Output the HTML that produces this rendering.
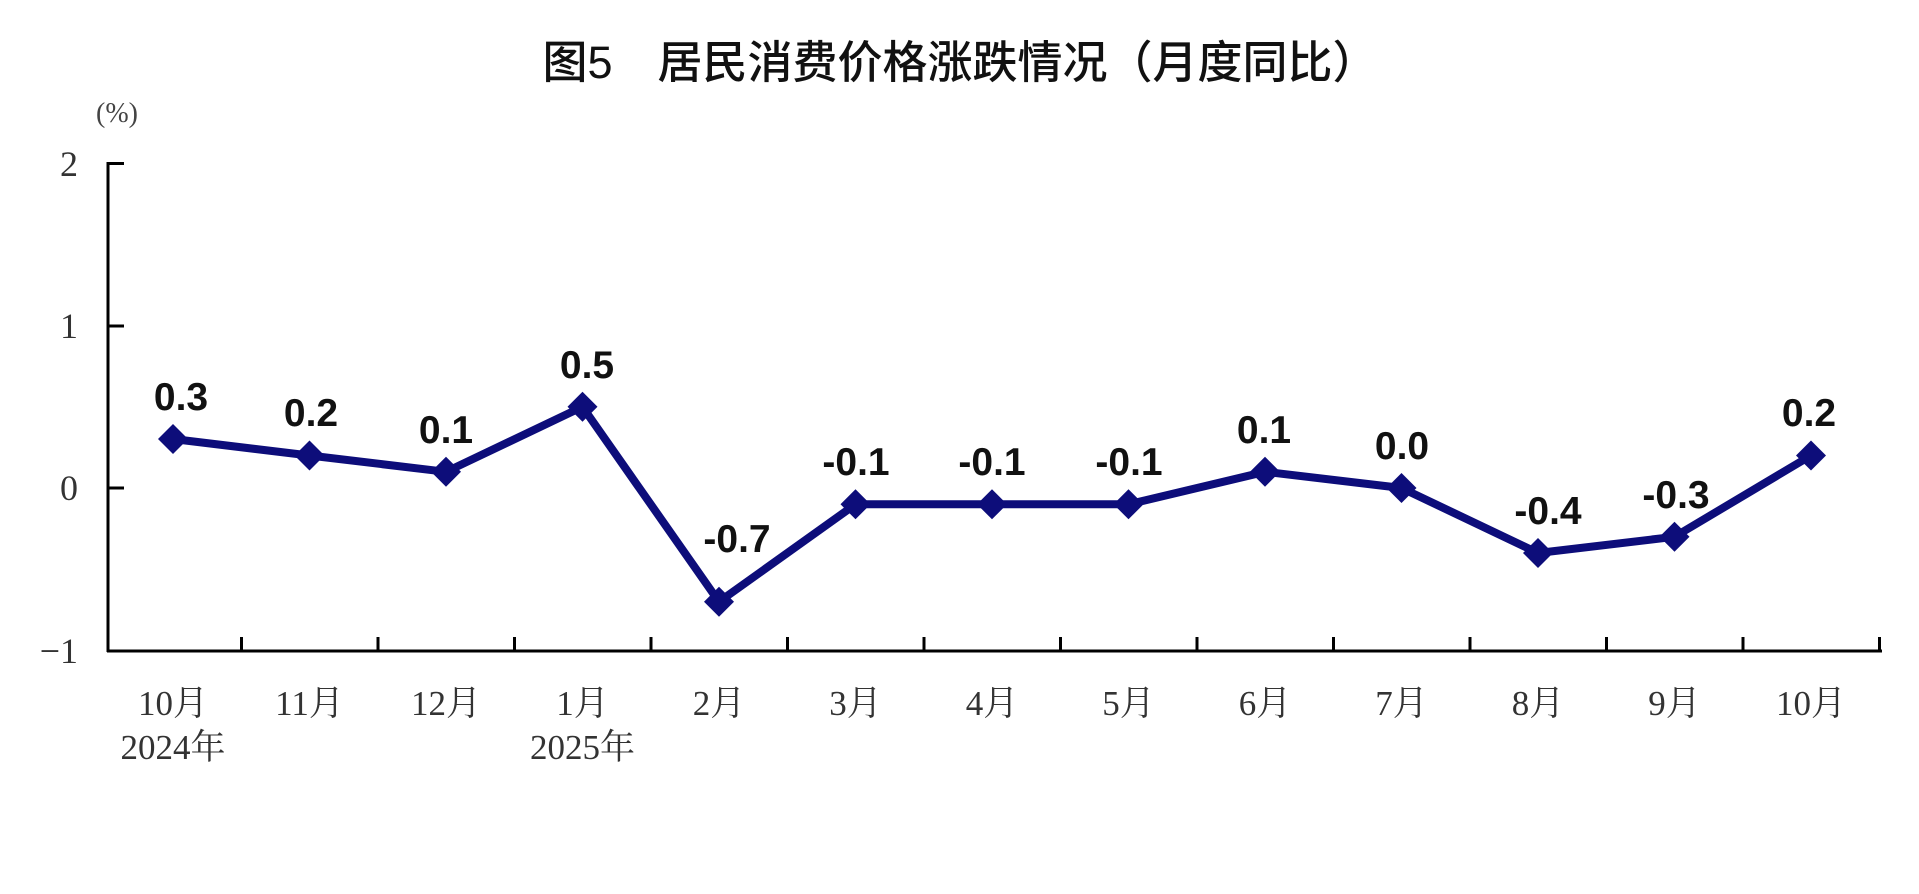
<!DOCTYPE html>
<html><head><meta charset="utf-8"><style>
html,body{margin:0;padding:0;background:#fff;}
</style></head><body>
<svg width="1919" height="889" xmlns="http://www.w3.org/2000/svg">
<rect width="1919" height="889" fill="#fff"/>
<text x="960" y="78" text-anchor="middle" font-family="'Liberation Sans','Noto Sans CJK SC',sans-serif" font-size="45" font-weight="500" fill="#111">图5　居民消费价格涨跌情况（月度同比）</text>
<text x="117" y="122" text-anchor="middle" font-family="'Liberation Serif','Noto Serif CJK SC',serif" font-size="28" fill="#444">(%)</text>
<g font-family="'Liberation Serif',serif" font-size="36" fill="#333" text-anchor="end">
<text x="78" y="176">2</text><text x="78" y="338">1</text><text x="78" y="500">0</text><text x="78" y="663">−1</text>
</g>
<g stroke="#000" stroke-width="3" fill="none">
<line x1="108" y1="162" x2="108" y2="652"/>
<line x1="107" y1="651" x2="1882" y2="651"/>
<line x1="108" y1="163.5" x2="124" y2="163.5"/>
<line x1="108" y1="326" x2="124" y2="326"/>
<line x1="108" y1="488" x2="124" y2="488"/>
<path d="M241.5 651V637M378 651V637M514.5 651V637M651 651V637M787.5 651V637M924 651V637M1060.5 651V637M1197 651V637M1333.5 651V637M1470 651V637M1606.5 651V637M1743 651V637M1879.5 651V637"/>
</g>
<polyline fill="none" stroke="#0d0d7a" stroke-width="8" stroke-linejoin="miter" points="173,439 309.5,455.5 446,471.8 582.5,406.8 719,601.8 855.5,504.3 992,504.3 1128.5,504.3 1265,471.8 1401.5,488 1538,553 1674.5,536.8 1811,455.5"/>
<g fill="#0d0d7a">
<path d="M173 424l15 15-15 15-15-15z"/><path d="M309.5 440.5l15 15-15 15-15-15z"/><path d="M446 456.8l15 15-15 15-15-15z"/><path d="M582.5 391.8l15 15-15 15-15-15z"/><path d="M719 586.8l15 15-15 15-15-15z"/><path d="M855.5 489.3l15 15-15 15-15-15z"/><path d="M992 489.3l15 15-15 15-15-15z"/><path d="M1128.5 489.3l15 15-15 15-15-15z"/><path d="M1265 456.8l15 15-15 15-15-15z"/><path d="M1401.5 473l15 15-15 15-15-15z"/><path d="M1538 538l15 15-15 15-15-15z"/><path d="M1674.5 521.8l15 15-15 15-15-15z"/><path d="M1811 440.5l15 15-15 15-15-15z"/>
</g>
<g font-family="'Liberation Sans',sans-serif" font-size="39" font-weight="bold" fill="#111" text-anchor="middle">
<text x="181" y="410">0.3</text><text x="311" y="426">0.2</text><text x="446" y="443">0.1</text><text x="587" y="378">0.5</text><text x="737" y="552">-0.7</text><text x="856" y="475">-0.1</text><text x="992" y="475">-0.1</text><text x="1129" y="475">-0.1</text><text x="1264" y="443">0.1</text><text x="1402" y="459">0.0</text><text x="1548" y="524">-0.4</text><text x="1676" y="508">-0.3</text><text x="1809" y="426">0.2</text>
</g>
<g font-family="'Liberation Serif','Noto Serif CJK SC',serif" font-size="35" fill="#333" text-anchor="middle">
<text x="173" y="715">10月</text><text x="309.5" y="715">11月</text><text x="446" y="715">12月</text><text x="582.5" y="715">1月</text><text x="719" y="715">2月</text><text x="855.5" y="715">3月</text><text x="992" y="715">4月</text><text x="1128.5" y="715">5月</text><text x="1265" y="715">6月</text><text x="1401.5" y="715">7月</text><text x="1538" y="715">8月</text><text x="1674.5" y="715">9月</text><text x="1811" y="715">10月</text>
<text x="173" y="759">2024年</text><text x="582.5" y="759">2025年</text>
</g>
</svg>
</body></html>
